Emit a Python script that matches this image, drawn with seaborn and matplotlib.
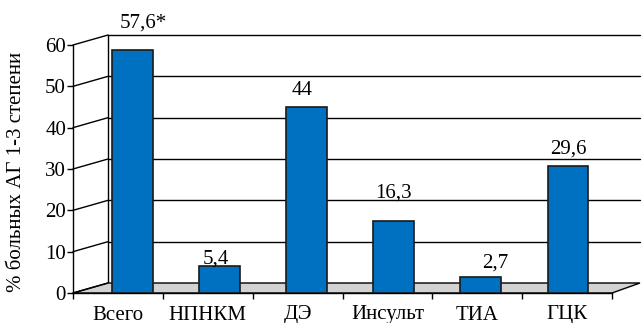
import numpy as np
import pandas as pd
import matplotlib
matplotlib.use("Agg")
import matplotlib.pyplot as plt
import seaborn as sns
from matplotlib.patches import Polygon
from matplotlib.lines import Line2D

# ---------------- data ----------------
categories = ["Всего", "НПНКМ", "ДЭ", "Инсульт", "ТИА", "ГЦК"]
values = [57.6, 5.4, 44, 16.3, 2.7, 29.6]
value_marks = ["*", "", "", "", "", ""]
y_ticks = [0, 10, 20, 30, 40, 50, 60]
y_label = "% больных АГ 1-3 степени"

# ---------------- style ----------------
sns.set_theme(style="white")
plt.rcParams["font.family"] = ["Liberation Serif", "DejaVu Serif"]
plt.rcParams["font.size"] = 15
plt.rcParams["xtick.labelsize"] = 15
plt.rcParams["ytick.labelsize"] = 15
for k in ["text.color", "axes.labelcolor", "xtick.color", "ytick.color"]:
    plt.rcParams[k] = "black"

BAR_COLOR = "#0070C0"
EDGE = "#1a1a1a"
FLOOR = "#d2d2d2"

W, H = 643, 323
fig = plt.figure(figsize=(W / 100, H / 100), dpi=100)


def rect(l, t, r, b):
    return [l / W, 1 - b / H, (r - l) / W, (b - t) / H]


# layout (pixels)
FL, FR, FB, FT = 73, 612, 293, 45      # front plane
BL, BR, BB, BT = 108, 640, 283, 35     # back wall
MX0, MSTEP = 132.5, 87.1               # mid-depth bar centre / spacing
MB = 288.5                             # mid-depth zero line
UNIT = (FB - FT) / 60.0

# back wall
ax_back = fig.add_axes(rect(BL, BT, BR, BB))
ax_back.set_xlim(0, 1)
ax_back.set_ylim(0, 60)
ax_back.set_axis_off()
for v in y_ticks[1:]:
    ax_back.axhline(v, color="black", lw=1.0, clip_on=False)
ax_back.axvline(0, color="black", lw=1.0, clip_on=False)
ax_back.set_zorder(0)

# front axes (ticks, labels)
ax = fig.add_axes(rect(FL, FT, FR, FB))
ax.set_facecolor("none")
ax.set_xlim(-0.5, len(categories) - 0.5)
ax.set_ylim(0, 60)
for s in ["top", "right"]:
    ax.spines[s].set_visible(False)
for s in ["left", "bottom"]:
    ax.spines[s].set_color("black")
    ax.spines[s].set_linewidth(1.0)
ax.set_xticks(range(len(categories)))
ax.set_xticklabels(categories, fontsize=15)
ax.set_xticks(np.arange(-0.5, len(categories), 1), minor=True)
ax.tick_params(axis="x", which="major", length=0, pad=9, bottom=True,
               labelsize=15)
ax.tick_params(axis="x", which="minor", length=4, width=1, bottom=True,
               direction="out", color="black")
ax.set_yticks(y_ticks)
ax.tick_params(axis="y", which="major", length=4, width=1, pad=1, left=True,
               direction="out", color="black", labelsize=15)
ax.set_zorder(1)

# floor and diagonals (connect front to back planes)
to_fig = fig.transFigure.inverted()
fl0 = to_fig.transform(ax.transData.transform((-0.5, 0)))
fr0 = to_fig.transform(ax.transData.transform((len(categories) - 0.5, 0)))
bl0 = to_fig.transform(ax_back.transData.transform((0, 0)))
br0 = to_fig.transform(ax_back.transData.transform((1, 0)))
floor = Polygon([fl0, fr0, br0, bl0], closed=True, facecolor=FLOOR,
                edgecolor="black", lw=1.0, transform=fig.transFigure, zorder=0.5)
fig.add_artist(floor)
for v in y_ticks:
    p1 = to_fig.transform(ax.transData.transform((-0.5, v)))
    p2 = to_fig.transform(ax_back.transData.transform((0, v)))
    fig.add_artist(Line2D([p1[0], p2[0]], [p1[1], p2[1]], color="black",
                          lw=1.0, transform=fig.transFigure, zorder=0.6))

# bars at mid depth
ax_bar = fig.add_axes(rect(FL, MB - 60 * UNIT, FR, FB))
df = pd.DataFrame({"cat": categories, "val": values})
sns.barplot(data=df, x="cat", y="val", order=categories, color=BAR_COLOR,
            saturation=1, edgecolor=EDGE, linewidth=1.2, width=0.47, ax=ax_bar)
ax_bar.set_xlim((FL - MX0) / MSTEP, (FR - MX0) / MSTEP)
y0 = -(FB - MB) / UNIT
ax_bar.set_ylim(y0, 60)
ax_bar.set_axis_off()
ax_bar.set_zorder(2)

# value labels
label_dx = [11, -3.5, -4.5, 0, 14.5, 0]
label_dy = [23, 3, 12, 24, 10, 13]
for i, p in enumerate(ax_bar.patches):
    h = p.get_height()
    p.set_y(y0)
    p.set_height(h - y0)
    cx = p.get_x() + p.get_width() / 2
    txt = f"{values[i]:g}".replace(".", ",") + value_marks[i]
    ax_bar.annotate(txt, xy=(cx, h), xytext=(label_dx[i], label_dy[i]),
                    textcoords="offset pixels", ha="center", va="baseline",
                    fontsize=15, annotation_clip=False)

fig.text(17 / W, 1 - 172 / H, y_label, rotation=90, ha="center", va="center",
         fontsize=15)

fig.savefig("out.png", dpi=100)
